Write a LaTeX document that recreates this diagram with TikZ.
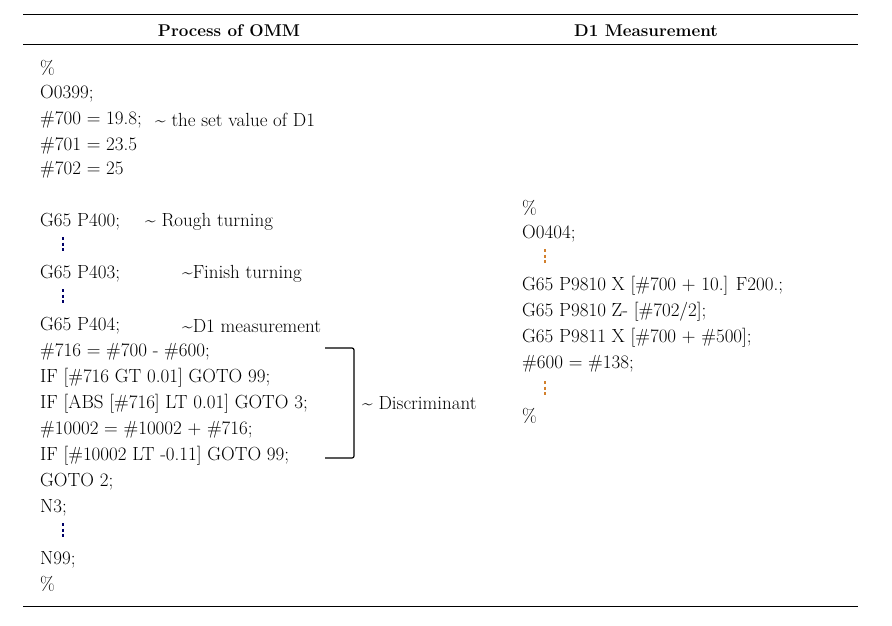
\documentclass[tikz,border=0pt]{standalone}
\usepackage{tikz}
\usetikzlibrary{positioning}
\tikzset{
  code/.style={anchor=west, inner sep=0pt, font=\fontsize{19}{21}\selectfont},
  head/.style={font=\fontsize{17}{19}\selectfont\bfseries, inner sep=0pt},
  rule/.style={line width=1pt},
  skipl/.style={dash pattern=on 3pt off 2.5pt, line width=1.3pt, blue!40!black},
  skipr/.style={dash pattern=on 3pt off 2.5pt, line width=1.3pt, brown!70!orange}
}
\begin{document}
\begin{tikzpicture}[x=1pt,y=-1pt]
    \useasboundingbox (0,0) rectangle (892,625);
    % Rules
    \draw[rule] (23,14) -- (858,14);
    \draw[line width=0.6pt] (23,44) -- (858,44);
    \draw[rule] (23,606) -- (858,606);
    \node[head] (hl) at (229,31) {Process of OMM};
    \node[head] (hr) at (646,31) {D1 Measurement};
    % Left column
    \foreach \y/\t [count=\i] in {68/\%, 94/O0399;, 120/\#700 = 19.8;, 146/\#701 = 23.5, 170/\#702 = 25,
        222/G65 P400;, 274/G65 P403;, 326/G65 P404;, 352/\#716 = \#700 - \#600;,
        378/IF [\#716 GT 0.01] GOTO 99;, 404/IF [ABS [\#716] LT 0.01] GOTO 3;,
        430/\#10002 = \#10002 + \#716;, 456/IF [\#10002 LT -0.11] GOTO 99;,
        482/GOTO 2;, 508/N3;, 560/N99;, 584/\%}
      \node[code] (l\i) at (40,\y) {\t};
    \node[code] (c1) at (155,120) {\textasciitilde{} the set value of D1};
    \node[code] (c2) at (145,222) {\textasciitilde{} Rough turning};
    \node[code] (c3) at (182,274) {\textasciitilde Finish turning};
    \node[code] (c4) at (182,326) {\textasciitilde D1 measurement};
    \node[code] (c5) at (362,403) {\textasciitilde{} Discriminant};
    % Bracket
    \coordinate (b1) at (325,348);
    \coordinate (b2) at (325,458);
    \draw[line width=1.2pt, rounded corners=2pt] (b1) -- (354,348) -- (354,458) -- (b2);
    % Skips
    \foreach \y in {244,296,530}
      \draw[skipl] (63,\y-7) -- (63,\y+7);
    % Right column
    \foreach \y/\t [count=\i] in {208/\%, 234/O0404;, 286/G65 P9810 X [\#700 + 10.] F200.;,
        312/{G65 P9810 Z- [\#702/2];}, 338/G65 P9811 X [\#700 + \#500];, 364/\#600 = \#138;, 416/\%}
      \node[code] (r\i) at (522,\y) {\t};
    \foreach \y in {256,388}
      \draw[skipr] (545,\y-7) -- (545,\y+7);
\end{tikzpicture}
\end{document}
